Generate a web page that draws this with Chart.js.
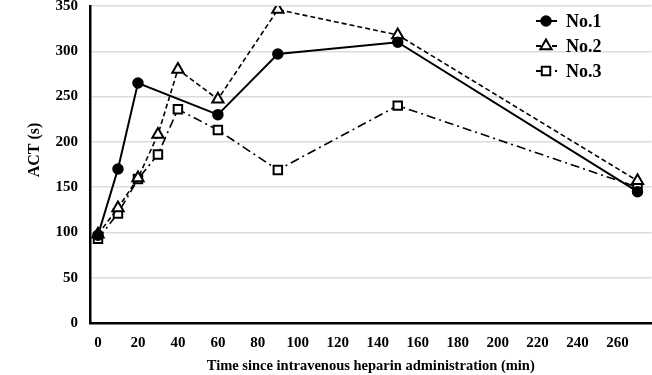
<!DOCTYPE html>
<html>
<head>
<meta charset="utf-8">
<script src="https://cdn.jsdelivr.net/npm/chart.js@4"></script>
<style>
  body { margin: 0; background: #fff; }
  #wrap { width: 652px; height: 375px; overflow: hidden; position: relative; }
  #actChart { position: absolute; left: 0; top: -15px; }
</style>
</head>
<body>
<div id="wrap"><canvas id="actChart" width="660" height="390"></canvas></div>
<script>
const times = [0, 10, 20, 30, 40, 60, 90, 150, 270];
const no1 = [97, 170, 265, null, null, 230, 297, 310, 145];
const no2 = [98, 127, 160, 208, 280, 247, 346, 318, 157];
const no3 = [93, 121, 159, 186, 236, 213, 169, 240, 150];
const xTicks = [0, 20, 40, 60, 80, 100, 120, 140, 160, 180, 200, 220, 240, 260];
const seriesNames = ['No.1', 'No.2', 'No.3'];
const yTitle = 'ACT (s)';

function toPoints(vals) {
  return times.map((t, i) => ({ x: t, y: vals[i] })).filter(p => p.y !== null);
}

const FONT = '"Liberation Serif", "DejaVu Serif", serif';

// legend with line sample + marker, like the original
const lineLegend = {
  id: 'lineLegend',
  afterDraw(chart) {
    const ctx = chart.ctx;
    const x0 = 546, y0 = 36, gap = 25;
    chart.data.datasets.forEach((ds, i) => {
      const y = y0 + i * gap;
      ctx.save();
      ctx.strokeStyle = '#000';
      ctx.lineWidth = 2;
      ctx.setLineDash(ds.borderDash || []);
      ctx.beginPath();
      ctx.moveTo(x0 - 10, y);
      ctx.lineTo(x0 + 11, y);
      ctx.stroke();
      ctx.setLineDash([]);
      ctx.fillStyle = ds.pointBackgroundColor;
      ctx.strokeStyle = '#000';
      ctx.lineWidth = ds.pointBorderWidth;
      Chart.helpers.drawPoint(ctx, {
        pointStyle: ds.pointStyle, radius: ds.pointRadius,
        borderWidth: ds.pointBorderWidth, rotation: 0
      }, x0, y);
      ctx.fillStyle = '#000';
      ctx.font = 'bold 18px ' + FONT;
      ctx.textBaseline = 'middle';
      ctx.fillText(ds.label, x0 + 20, y + 1);
      ctx.restore();
    });

    // y axis title, sits a bit above the middle in the original
    ctx.save();
    ctx.translate(35, 165);
    ctx.rotate(-Math.PI / 2);
    ctx.font = 'bold 16px ' + FONT;
    ctx.fillStyle = '#000';
    ctx.textAlign = 'center';
    ctx.textBaseline = 'middle';
    ctx.fillText(yTitle, 0, 0);
    ctx.restore();
  }
};

new Chart(document.getElementById('actChart'), {
  type: 'line',
  data: {
    datasets: [
      {
        label: seriesNames[0], data: toPoints(no1),
        borderColor: '#000', borderWidth: 2,
        pointStyle: 'circle', pointRadius: 5, pointBorderWidth: 1.5,
        pointBackgroundColor: '#000', pointBorderColor: '#000'
      },
      {
        label: seriesNames[1], data: toPoints(no2),
        borderColor: '#000', borderWidth: 1.6, borderDash: [5, 3],
        pointStyle: 'triangle', pointRadius: 6.5, pointBorderWidth: 2,
        pointBackgroundColor: '#fff', pointBorderColor: '#000'
      },
      {
        label: seriesNames[2], data: toPoints(no3),
        borderColor: '#000', borderWidth: 1.6, borderDash: [9, 4, 2, 4],
        pointStyle: 'rect', pointRadius: 6, pointBorderWidth: 2,
        pointBackgroundColor: '#fff', pointBorderColor: '#000'
      }
    ]
  },
  options: {
    responsive: false,
    animation: false,
    layout: { padding: { top: 0, right: 0, left: 0, bottom: 0 } },
    plugins: {
      legend: { display: false },
      tooltip: { enabled: false }
    },
    scales: {
      x: {
        type: 'linear',
        min: -4,
        max: 277,
        afterBuildTicks: (scale) => { scale.ticks = xTicks.map(v => ({ value: v })); },
        afterFit: (scale) => { scale.height = 52; },
        grid: { display: false, drawTicks: false },
        border: { color: '#000', width: 2.5 },
        ticks: { color: '#000', font: { family: FONT, size: 15, weight: 'bold' }, padding: 11, maxRotation: 0 },
        title: {
          display: true,
          text: 'Time since intravenous heparin administration (min)',
          color: '#000',
          font: { family: FONT, size: 14.5, weight: 'bold' },
          padding: { top: 5, bottom: 0 }
        }
      },
      y: {
        min: 0,
        max: 350,
        ticks: { stepSize: 50, color: '#000', font: { family: FONT, size: 15, weight: 'bold' }, padding: 12 },
        afterFit: (scale) => { scale.width = 90; },
        grid: { color: '#dcdcdc', lineWidth: 1.5, drawTicks: false },
        border: { color: '#000', width: 2.5 },
        title: { display: false }
      }
    }
  },
  plugins: [lineLegend]
});
</script>
</body>
</html>
